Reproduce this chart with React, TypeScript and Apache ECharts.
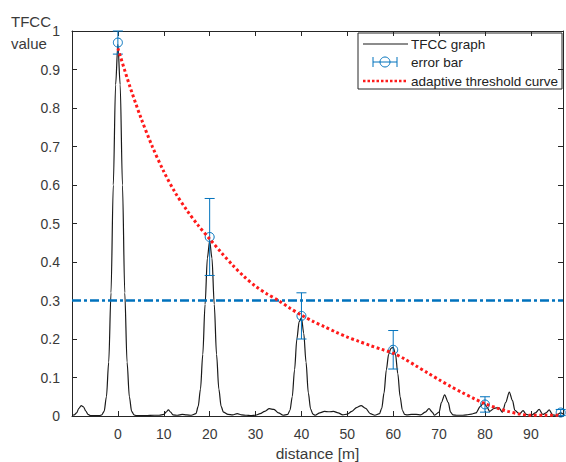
import React, { useEffect, useRef } from "react";
import * as echarts from "echarts";

// TFCC graph: [distance m, value]
const tfccGraph: [number, number][] = [
  [-10, 0.002], [-9.5, 0.003], [-9, 0.008], [-8.5, 0.02], [-8, 0.027], [-7.5, 0.024], [-7, 0.013], [-6.5, 0.004], [-6, 0.001],
  [-5, 0.001], [-4, 0.001], [-3.5, 0.003], [-3, 0.012], [-2.5, 0.05], [-2, 0.14], [-1.5, 0.32], [-1, 0.6], [-0.5, 0.86], [0, 0.965],
  [0.5, 0.86], [1, 0.6], [1.5, 0.32], [2, 0.14], [2.5, 0.05], [3, 0.012], [3.5, 0.003], [4, 0.001], [6, 0.001], [8, 0.002],
  [9, 0.002], [10, 0.004], [10.5, 0.01], [11, 0.016], [11.5, 0.01], [12, 0.003], [13, 0.002], [14, 0.004], [15, 0.003],
  [16, 0.002], [17, 0.006], [17.5, 0.025], [18, 0.07], [18.5, 0.16], [19, 0.29], [19.5, 0.41], [20, 0.455], [20.5, 0.41],
  [21, 0.29], [21.5, 0.16], [22, 0.07], [22.5, 0.025], [23, 0.01], [24, 0.004], [25, 0.003], [26, 0.006], [27, 0.003],
  [28, 0.002], [29, 0.001], [30, 0.002], [31, 0.006], [32, 0.012], [33, 0.019], [34, 0.017], [35, 0.008], [36, 0.002],
  [37, 0.004], [37.5, 0.015], [38, 0.05], [38.5, 0.12], [39, 0.2], [39.5, 0.245], [40, 0.255], [40.5, 0.215], [41, 0.14],
  [41.5, 0.06], [42, 0.018], [42.5, 0.005], [43, 0.002], [44, 0.008], [45, 0.012], [46, 0.011], [47, 0.012], [48, 0.008],
  [49, 0.003], [50, 0.005], [51, 0.012], [52, 0.022], [53, 0.027], [54, 0.02], [55, 0.006], [56, 0.002], [57, 0.006],
  [57.5, 0.02], [58, 0.06], [58.5, 0.12], [59, 0.16], [59.5, 0.176], [60, 0.178], [60.5, 0.16], [61, 0.11], [61.5, 0.05],
  [62, 0.015], [62.5, 0.004], [63, 0.003], [64, 0.004], [65, 0.004], [66, 0.003], [67, 0.01], [67.8, 0.019], [68.5, 0.01],
  [69, 0.002], [70, 0.01], [70.5, 0.035], [71.2, 0.055], [72, 0.035], [72.5, 0.01], [73, 0.003], [74, 0.002], [75, 0.002],
  [76, 0.003], [77, 0.005], [78, 0.008], [79, 0.025], [79.7, 0.035], [80.5, 0.022], [81, 0.012], [82, 0.02], [83, 0.022],
  [83.8, 0.01], [84.5, 0.035], [85.3, 0.062], [86, 0.04], [86.5, 0.015], [87.5, 0.005], [88.3, 0.014], [89, 0.004],
  [90, 0.001], [91, 0.008], [91.8, 0.017], [92.6, 0.004], [93.3, 0.008], [94, 0.016], [94.7, 0.003], [95.5, 0.002],
  [96.5, 0.008], [97, 0.005],
];

// adaptive threshold curve: [distance m, value]
const thresholdCurve: [number, number][] = [
  [0, 0.955], [2.5, 0.86], [5, 0.775], [7.5, 0.7], [10, 0.635], [12.5, 0.58], [15, 0.535], [17.5, 0.495], [20, 0.46],
  [22.5, 0.425], [25, 0.392], [27.5, 0.362], [30, 0.337], [32.5, 0.317], [35, 0.3], [37.5, 0.28], [40, 0.262],
  [42.5, 0.246], [45, 0.232], [47.5, 0.218], [50, 0.205], [52.5, 0.194], [55, 0.183], [57.5, 0.173], [60, 0.163],
  [62.5, 0.148], [65, 0.13], [67.5, 0.112], [70, 0.094], [72.5, 0.077], [75, 0.061], [77.5, 0.046], [80, 0.032],
  [82.5, 0.021], [85, 0.012], [87.5, 0.005], [90, 0.002], [93, 0.002], [96.5, 0.002],
];

// error bars
const errX = [0, 20, 40, 60, 80, 96.5];
const errY = [0.97, 0.465, 0.26, 0.172, 0.03, 0.009];
const errDelta = [0.03, 0.1, 0.06, 0.05, 0.02, 0.008];

const fixedThreshold = 0.3;

const xTickLabels = ["0", "10", "20", "30", "40", "50", "60", "70", "80", "90"];

const BLUE = "#0072BD";
const RED = "#ff1a1a";
const AXIS = "#262626";
const LABEL = "#3a3a3a";
const FONT = "'Liberation Sans', Arial, sans-serif";

export default function App() {
  const ref = useRef<HTMLDivElement>(null);
  useEffect(() => {
    document.body.style.margin = "0";
    const chart = echarts.init(ref.current!, null, { renderer: "svg" });
    const errData = errX.map((x, i) => [x, errY[i], errY[i] - errDelta[i], Math.min(1, errY[i] + errDelta[i])]);
    const axisLine = { show: true, onZero: false, lineStyle: { color: AXIS, width: 1 } };
    const axisTick = { show: true, inside: true, length: 5, lineStyle: { color: AXIS, width: 1 } };
    const legendX = 358;
    const legendY = 33;
    const option: any = {
      animation: false,
      backgroundColor: "#fff",
      textStyle: { fontFamily: FONT },
      grid: { left: 72, right: 3, top: 31, bottom: 46, containLabel: false, outerBoundsMode: "none" },
      xAxis: [
        {
          type: "value", min: -10, max: 97, interval: 10, position: "bottom",
          axisLine, axisTick, splitLine: { show: false },
          axisLabel: {
            margin: 11, fontSize: 14, color: LABEL, fontFamily: FONT,
            formatter: (v: number) => (xTickLabels.includes(String(v)) ? String(v) : ""),
          },
          name: "distance [m]", nameLocation: "middle", nameGap: 27,
          nameTextStyle: { fontSize: 15.5, color: LABEL, fontFamily: FONT },
        },
        {
          type: "value", min: -10, max: 97, interval: 10, position: "top",
          axisLine, axisTick, splitLine: { show: false }, axisLabel: { show: false },
        },
      ],
      yAxis: [
        {
          type: "value", min: 0, max: 1, interval: 0.1, position: "left",
          axisLine, axisTick, splitLine: { show: false },
          axisLabel: { margin: 12, fontSize: 14, color: LABEL, fontFamily: FONT },
        },
        {
          type: "value", min: 0, max: 1, interval: 0.1, position: "right",
          axisLine, axisTick, splitLine: { show: false }, axisLabel: { show: false },
        },
      ],
      series: [
        {
          name: "TFCC graph", type: "line", data: tfccGraph, showSymbol: false, smooth: 0.3, smoothMonotone: "x",
          lineStyle: { color: "#1a1a1a", width: 1.2 }, z: 3,
          markLine: {
            silent: true, symbol: "none", label: { show: false },
            lineStyle: { color: BLUE, width: 2.5, type: [9, 3, 3, 3] },
            data: [{ yAxis: fixedThreshold }],
          },
        },
        {
          name: "error bar", type: "custom", data: errData, encode: { x: 0, y: 1 }, z: 4, clip: false,
          renderItem: (params: any, api: any) => {
            const c = api.coord([api.value(0), api.value(1)]);
            const lo = api.coord([api.value(0), api.value(2)]);
            const hi = api.coord([api.value(0), api.value(3)]);
            const w = 5;
            const style = { stroke: BLUE, lineWidth: 1, fill: "none" };
            return {
              type: "group",
              children: [
                { type: "line", shape: { x1: c[0], y1: hi[1], x2: c[0], y2: lo[1] }, style },
                { type: "line", shape: { x1: c[0] - w, y1: hi[1], x2: c[0] + w, y2: hi[1] }, style },
                { type: "line", shape: { x1: c[0] - w, y1: lo[1], x2: c[0] + w, y2: lo[1] }, style },
                { type: "circle", shape: { cx: c[0], cy: c[1], r: 4.5 }, style },
              ],
            };
          },
        },
        {
          name: "adaptive threshold curve", type: "line", data: thresholdCurve, showSymbol: false, smooth: 0.3,
          lineStyle: { color: RED, width: 3, type: [2.8, 2.6] }, z: 5,
        },
      ],
      graphic: [
        {
          type: "text", left: 11, top: 10,
          style: { text: "TFCC\nvalue", fontSize: 15, lineHeight: 22, fill: LABEL, fontFamily: FONT, align: "center" },
        },
        {
          type: "group", z: 100,
          children: [
            { type: "rect", shape: { x: legendX, y: legendY, width: 204, height: 56 }, style: { fill: "#fff", stroke: AXIS, lineWidth: 1 } },
            { type: "line", shape: { x1: legendX + 5, y1: legendY + 11, x2: legendX + 50, y2: legendY + 11 }, style: { stroke: "#1a1a1a", lineWidth: 1.2 } },
            { type: "line", shape: { x1: legendX + 15, y1: legendY + 29, x2: legendX + 39, y2: legendY + 29 }, style: { stroke: BLUE, lineWidth: 1 } },
            { type: "line", shape: { x1: legendX + 15, y1: legendY + 24, x2: legendX + 15, y2: legendY + 34 }, style: { stroke: BLUE, lineWidth: 1 } },
            { type: "line", shape: { x1: legendX + 39, y1: legendY + 24, x2: legendX + 39, y2: legendY + 34 }, style: { stroke: BLUE, lineWidth: 1 } },
            { type: "circle", shape: { cx: legendX + 27, cy: legendY + 29, r: 5 }, style: { stroke: BLUE, lineWidth: 1, fill: "none" } },
            { type: "line", shape: { x1: legendX + 5, y1: legendY + 48, x2: legendX + 50, y2: legendY + 48 }, style: { stroke: RED, lineWidth: 2.5, lineDash: [2.5, 2] } },
            { type: "text", x: legendX + 53, y: legendY + 11, style: { text: "TFCC graph", fontSize: 13.5, fill: "#222", fontFamily: FONT, verticalAlign: "middle" } },
            { type: "text", x: legendX + 53, y: legendY + 29, style: { text: "error bar", fontSize: 13.5, fill: "#222", fontFamily: FONT, verticalAlign: "middle" } },
            { type: "text", x: legendX + 53, y: legendY + 48, style: { text: "adaptive threshold curve", fontSize: 13.5, fill: "#222", fontFamily: FONT, verticalAlign: "middle" } },
          ],
        },
      ],
    };
    chart.setOption(option);
    return () => chart.dispose();
  }, []);
  return <div ref={ref} style={{ width: 566, height: 462 }} />;
}
